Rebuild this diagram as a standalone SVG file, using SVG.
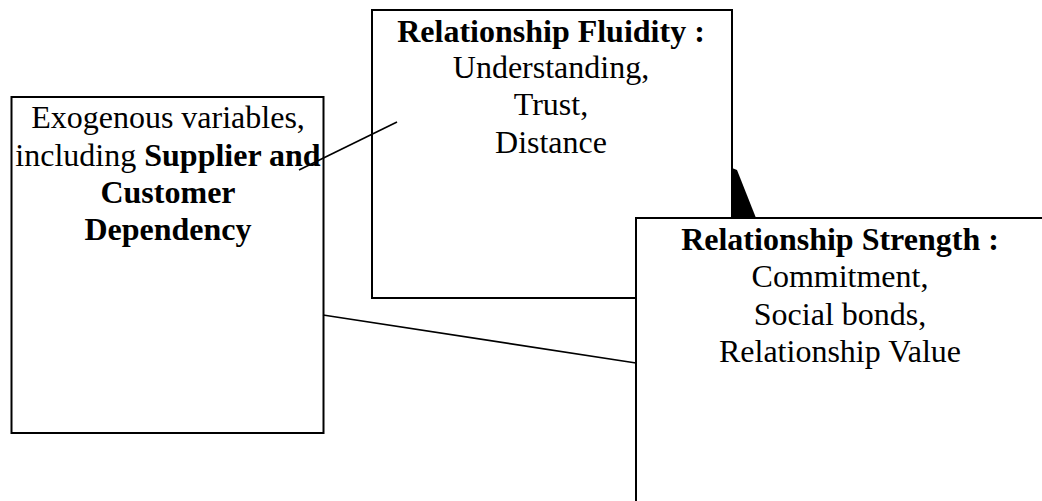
<svg xmlns="http://www.w3.org/2000/svg" width="1042" height="501" viewBox="0 0 1042 501">
<style>
.box{fill:#fff;stroke:#000;stroke-width:2}
.ln{stroke:#000;stroke-width:1.6;fill:none}
text{font-family:"Liberation Serif","Times New Roman",serif;font-size:32px;fill:#000;text-anchor:middle}
.b{font-weight:bold}
</style>
<rect width="1042" height="501" fill="#fff"/>
<g id="exogenous">
<rect class="box" x="11.5" y="97" width="312" height="336"/>
<text x="168" y="128">Exogenous variables,</text>
<text x="168" y="166">including <tspan class="b">Supplier and</tspan></text>
<text x="168" y="203" class="b">Customer</text>
<text x="168" y="240" class="b">Dependency</text>
</g>
<g id="fluidity">
<rect class="box" x="372" y="10" width="360" height="288"/>
<text x="551" y="42" class="b">Relationship Fluidity :</text>
<text x="551" y="78">Understanding,</text>
<text x="551" y="115">Trust,</text>
<text x="551" y="153">Distance</text>
</g>
<g id="connectors">
<line class="ln" x1="299" y1="170" x2="397" y2="122"/>
<line class="ln" x1="323" y1="315" x2="636" y2="363"/>
<polygon points="732,168 737,170 756,218 733,218" fill="#000"/>
</g>
<g id="strength">
<rect class="box" x="636" y="218" width="420" height="300"/>
<text x="840" y="250" class="b">Relationship Strength :</text>
<text x="840" y="287">Commitment,</text>
<text x="840" y="325">Social bonds,</text>
<text x="840" y="362">Relationship Value</text>
</g>
</svg>
